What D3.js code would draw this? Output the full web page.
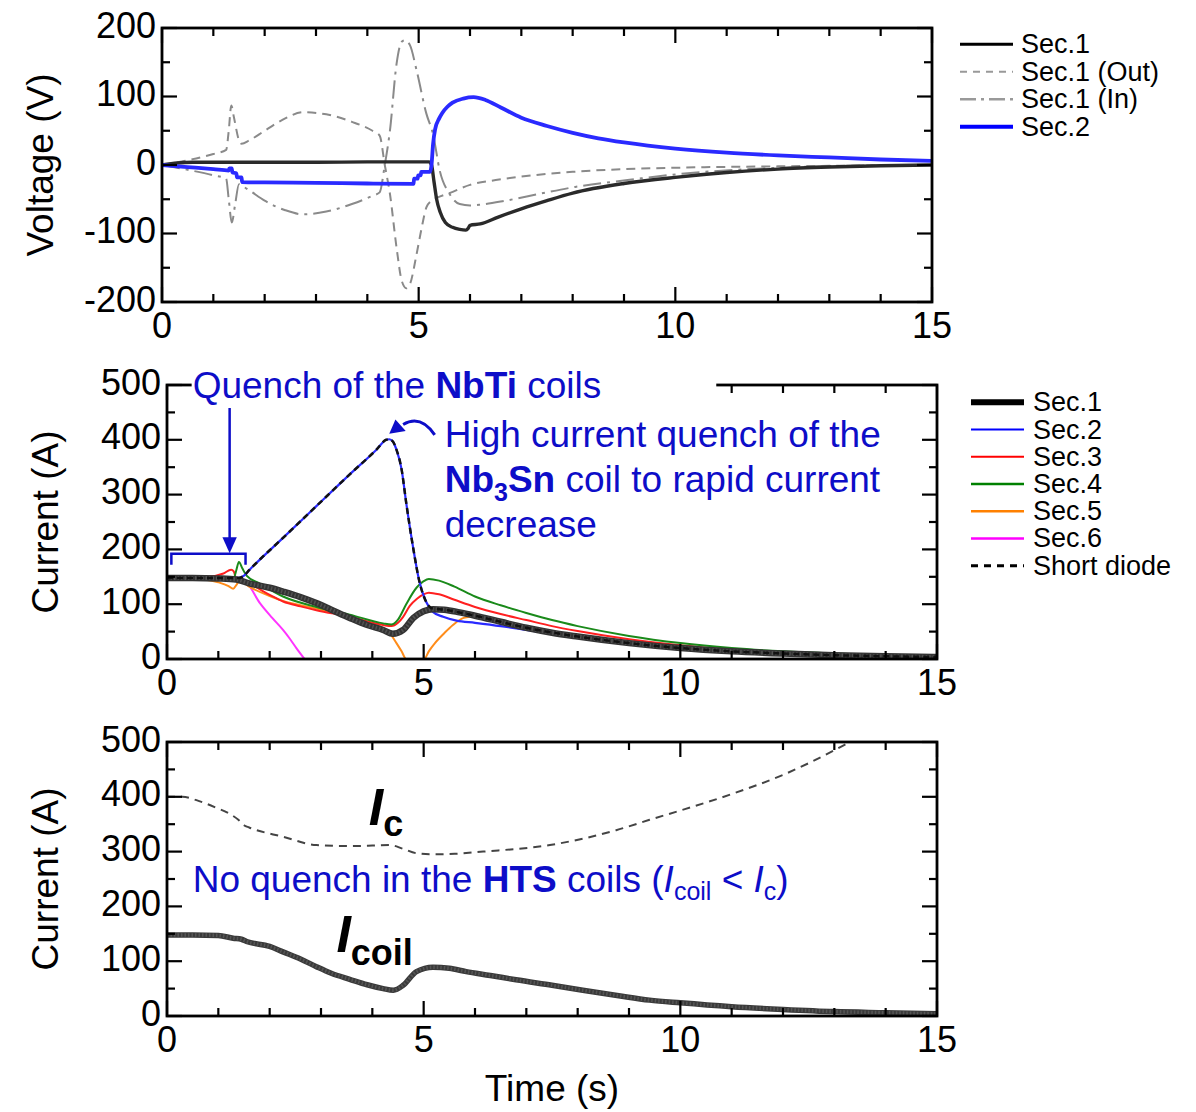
<!DOCTYPE html>
<html><head><meta charset="utf-8">
<script src="https://cdn.jsdelivr.net/npm/d3@7"></script>
<style>body{margin:0;background:#fff}svg{display:block}text{font-family:Arial,"Liberation Sans",sans-serif}</style>
</head><body><svg id="c" width="1196" height="1112"></svg>
<script>
// ---------- DATA ----------
const timeTicksMajor = [0, 5, 10, 15];
const voltTicks = [200, 100, 0, -100, -200];
const currTicks = [500, 400, 300, 200, 100, 0];

// Panel 1: voltage (V)
const sec1V_t = [0, 0.3, 0.6, 1, 2, 3, 4, 5, 5.2, 5.25, 5.3, 5.35, 5.42, 5.52, 5.66, 5.8, 5.92, 5.96, 6.0, 6.2, 6.55, 7, 7.5, 8, 9, 10, 11, 12, 13, 14, 15];
const sec1V_v = [0, 3, 4, 4, 4, 4, 4.5, 4.5, 4.5, 0, -25, -50, -69, -84, -91, -94, -95, -93, -88, -86, -76, -64, -52, -41, -27, -18, -11, -6, -3, -1, 0];
const sec2V_t = [0, 0.5, 1.0, 1.3, 1.31, 1.36, 1.37, 1.45, 1.46, 1.55, 1.56, 2, 3, 4, 4.9, 4.91, 4.98, 4.99, 5.04, 5.05, 5.22, 5.25, 5.28, 5.32, 5.4, 5.46, 5.56, 5.66, 5.87, 6.07, 6.3, 6.6, 7, 7.5, 8, 8.5, 9, 10, 11, 12, 13, 14, 15];
const sec2V_v = [0, -3, -6, -8, -5, -5, -11, -12, -18, -18, -25, -25.5, -26, -27, -27.5, -20, -20, -15, -15, -10, -10, 0, 30, 52, 68, 76, 85, 91, 97, 99, 95, 84, 69, 57, 47, 39, 33, 24, 18, 14, 11, 8, 6];
const outV_t = [0, 0.5, 1.0, 1.25, 1.3, 1.35, 1.4, 1.5, 1.55, 1.7, 2.0, 2.4, 2.75, 3.2, 3.7, 4.1, 4.24, 4.34, 4.44, 4.57, 4.67, 4.76, 4.83, 4.96, 5.05, 5.15, 5.25, 5.35, 5.6, 6, 6.5, 7, 8, 9, 10, 12, 15];
const outV_v = [0, 7, 16, 22, 50, 87, 70, 36, 31, 36, 50, 68, 77, 74, 63, 50, 43, 0, -42, -121, -169, -180, -174, -130, -95, -62, -52, -48, -41, -29, -22, -17, -10, -6, -4, -2, 0];
const inV_t = [0, 0.5, 1.0, 1.25, 1.3, 1.36, 1.42, 1.5, 1.55, 1.7, 2.0, 2.4, 2.75, 3.2, 3.7, 4.1, 4.24, 4.34, 4.44, 4.57, 4.67, 4.73, 4.83, 4.96, 5.15, 5.28, 5.41, 5.6, 5.8, 6.0, 6.2, 6.7, 7.36, 8.05, 9.07, 10.1, 11.45, 12.8, 15];
const inV_v = [0, -7, -15, -20, -50, -84, -60, -28, -30, -37, -52, -66, -72, -68, -57, -45, -40, 0, 50, 148, 180, 182, 175, 138, 75, 45, -8, -42, -57, -59, -58, -52, -42, -32, -22, -13, -6, -2, 0];

// Panel 2: section currents (A)
const sec1I_t = [0, 0.5, 1, 1.35, 1.6, 2, 2.26, 2.6, 2.91, 3.2, 3.56, 3.9, 4.21, 4.4, 4.6, 4.8, 5.0, 5.18, 5.4, 5.7, 6.0, 6.5, 7, 7.5, 8, 9, 10, 11, 12, 13, 14, 15];
const sec1I_v = [148, 148, 147, 145, 138, 130, 123, 113, 102, 90, 75, 62, 53, 46, 53, 75, 87, 91, 90, 85, 79, 68, 57, 48, 41, 29, 20, 14, 10, 7, 5, 3.5];
const sec2I_t = [0, 1.0, 1.4, 1.5, 1.6, 2.26, 2.91, 3.56, 4.08, 4.27, 4.33, 4.4, 4.47, 4.57, 4.66, 4.79, 4.92, 5.05, 5.18, 5.38, 5.64, 6.0, 6.5, 7, 8, 9, 10, 11, 12, 13, 14, 15];
const sec2I_v = [148, 148, 148, 152, 162, 221, 279, 337, 382, 400, 401, 397, 382, 346, 285, 206, 140, 104, 86, 77, 70, 66, 60, 53, 41, 30, 21, 15, 10, 7, 5, 3.5];
const sec3I_t = [0, 0.8, 1.1, 1.25, 1.3, 1.36, 1.45, 1.6, 2.0, 2.26, 2.6, 2.91, 3.56, 4.21, 4.37, 4.5, 4.6, 4.73, 4.87, 5.0, 5.1, 5.3, 5.6, 6, 6.5, 7, 7.5, 8, 9, 10, 11, 12, 13, 14, 15];
const sec3I_v = [148, 150, 156, 163, 160, 143, 141, 137, 117, 105, 96, 89, 77, 62, 60, 66, 77, 97, 110, 118, 121, 118, 108, 95, 82, 71, 60, 51, 36, 25, 17, 11, 8, 6, 4];
const sec4I_t = [0, 1.0, 1.3, 1.35, 1.4, 1.47, 1.55, 1.8, 2.26, 2.91, 3.56, 4.21, 4.37, 4.5, 4.66, 4.86, 5.0, 5.1, 5.3, 5.6, 6, 6.5, 7, 7.5, 8, 9, 10, 11, 12, 13, 14, 15];
const sec4I_v = [148, 148, 148, 162, 177, 165, 152, 138, 114, 95, 81, 65, 63, 72, 100, 130, 142, 146, 143, 132, 114, 98, 84, 71, 60, 42, 29, 20, 14, 10, 7, 5];
const sec5I_t = [0, 0.6, 1.0, 1.2, 1.29, 1.35, 1.42, 1.6, 2.0, 2.26, 2.91, 3.56, 4.0, 4.21, 4.35, 4.47, 4.57, 4.66, 4.67, 5.0, 5.01, 5.1, 5.22, 5.4, 5.57, 5.78, 6, 6.5, 7, 8, 9, 10, 11, 12, 13, 14, 15];
const sec5I_v = [148, 146, 140, 133, 128, 135, 143, 132, 115, 106, 92, 76, 64, 57, 46, 29, 14, 0, 0, 0, 0, 14, 29, 47, 62, 75, 78, 68, 57, 41, 29, 20, 14, 10, 7, 5, 3.5];
const sec6I_t = [0, 1.0, 1.35, 1.5, 1.55, 1.81, 2.05, 2.26, 2.4, 2.52, 2.68];
const sec6I_v = [148, 148, 146, 142, 139, 102, 75, 53, 36, 20, 0];
const diodeI_t = [0, 1.4, 1.5, 1.6, 2.26, 2.91, 3.56, 4.08, 4.27, 4.33, 4.4, 4.47, 4.57, 4.66, 4.79, 4.92, 5.05, 5.18, 5.4, 5.7, 6.0, 7, 8, 9, 10, 11, 12, 13, 14, 15];
const diodeI_v = [148, 148, 152, 162, 221, 279, 337, 382, 400, 401, 397, 382, 346, 285, 206, 140, 104, 92, 90, 85, 79, 57, 41, 29, 20, 14, 10, 7, 5, 3.5];

// Panel 3: HTS coil current and critical current (A)
const icI_t = [0, 0.3, 0.6, 0.96, 1.2, 1.39, 1.5, 1.6, 2.26, 2.91, 3.56, 4.0, 4.34, 4.6, 4.86, 5.18, 5.6, 6.16, 7.46, 8.75, 9.4, 10, 11, 12, 13, 13.3, 13.6];
const icI_v = [400, 400, 393, 380, 370, 358, 348, 344, 327, 312, 310, 311, 312, 305, 297, 295, 296, 300, 312, 339, 358, 375, 405, 440, 485, 500, 515];
const coilI_t = [0, 0.5, 1.0, 1.29, 1.45, 1.55, 2.0, 2.26, 2.6, 2.91, 3.2, 3.56, 3.9, 4.21, 4.41, 4.6, 4.86, 5.18, 5.5, 5.83, 6.3, 6.8, 7.5, 8.1, 8.8, 9.4, 10, 11, 12, 13, 14, 15];
const coilI_v = [148, 148, 147, 142, 140, 136, 127, 117, 104, 90, 78, 67, 57, 50, 47, 56, 81, 89, 87, 81, 74, 66, 56, 47, 37, 29, 24, 17, 12, 8, 6, 4];

// ---------- DRAW ----------
const svg = d3.select('#c');
const BLUE_T = '#0d0dc8';
const zip = (a, b) => d3.zip(a, b);

function panel(o) {
  const x = d3.scaleLinear().domain([0, 15]).range([o.x0, o.x1]);
  const y = d3.scaleLinear().domain(o.dom).range([o.yb, o.yt]);
  const g = svg.append('g');
  const id = 'clip' + o.name;
  svg.append('clipPath').attr('id', id).append('rect')
    .attr('x', o.x0).attr('y', o.yt).attr('width', o.x1 - o.x0).attr('height', o.yb - o.yt);
  const plot = g.append('g').attr('clip-path', `url(#${id})`);
  const line = d3.line().x(d => x(d[0])).y(d => y(d[1])).curve(d3.curveMonotoneX);
  return {x, y, g, plot, line, o};
}

function frame(p, yLabels, yMinorStep) {
  const {x, y, g, o} = p;
  const fg = g.append('g');
  const yMaj = yLabels;
  const yMin = d3.range(o.dom[0], o.dom[1] + 0.001, yMinorStep).filter(v => !yMaj.includes(v));
  const xMin = d3.range(0, 16, 1).filter(v => !timeTicksMajor.includes(v));
  const tk = (x1, y1, x2, y2) => fg.append('line').attr('x1', x1).attr('y1', y1).attr('x2', x2).attr('y2', y2)
    .attr('stroke', '#000').attr('stroke-width', 2.2);
  yMaj.forEach(v => { tk(o.x0, y(v), o.x0 + 15, y(v)); tk(o.x1, y(v), o.x1 - 15, y(v)); });
  yMin.forEach(v => { tk(o.x0, y(v), o.x0 + 8, y(v)); tk(o.x1, y(v), o.x1 - 8, y(v)); });
  timeTicksMajor.forEach(v => { tk(x(v), o.yb, x(v), o.yb - 15); tk(x(v), o.yt, x(v), o.yt + 15); });
  xMin.forEach(v => { tk(x(v), o.yb, x(v), o.yb - 8); tk(x(v), o.yt, x(v), o.yt + 8); });
  fg.append('rect').attr('x', o.x0).attr('y', o.yt).attr('width', o.x1 - o.x0).attr('height', o.yb - o.yt)
    .attr('fill', 'none').attr('stroke', '#000').attr('stroke-width', 2.8);
  yMaj.forEach(v => fg.append('text').attr('x', o.x0 - 6).attr('y', y(v) - 3).attr('dy', '0.35em')
    .attr('text-anchor', 'end').attr('font-size', 36).text(String(v)));
  timeTicksMajor.forEach(v => fg.append('text').attr('x', x(v)).attr('y', o.yb + 36)
    .attr('text-anchor', 'middle').attr('font-size', 36).text(String(v)));
  fg.append('text').attr('transform', `translate(${o.titleX},${(o.yt + o.yb) / 2}) rotate(-90)`)
    .attr('text-anchor', 'middle').attr('font-size', 37).text(o.title);
  return fg;
}

// ---- Panel 1 ----
const p1 = panel({name: 'p1', x0: 162, x1: 932, yt: 28, yb: 302, dom: [-200, 200], title: 'Voltage (V)', titleX: 53});
p1.plot.append('path').datum(zip(outV_t, outV_v)).attr('d', p1.line).attr('fill', 'none')
  .attr('stroke', '#8a8a8a').attr('stroke-width', 2).attr('stroke-dasharray', '9,6');
p1.plot.append('path').datum(zip(inV_t, inV_v)).attr('d', p1.line).attr('fill', 'none')
  .attr('stroke', '#8a8a8a').attr('stroke-width', 2).attr('stroke-dasharray', '18,6,3,6');
p1.plot.append('path').datum(zip(sec1V_t, sec1V_v)).attr('d', p1.line).attr('fill', 'none')
  .attr('stroke', '#2a2a2a').attr('stroke-width', 3.4);
p1.plot.append('path').datum(zip(sec2V_t, sec2V_v)).attr('d', p1.line).attr('fill', 'none')
  .attr('stroke', '#2a2aff').attr('stroke-width', 3.8);
frame(p1, voltTicks, 50);

// legend 1
const leg1 = [
  {name: 'Sec.1', stroke: '#000', w: 3, dash: null},
  {name: 'Sec.1 (Out)', stroke: '#999', w: 2, dash: '7,6'},
  {name: 'Sec.1 (In)', stroke: '#999', w: 2.5, dash: '16,5,3,5'},
  {name: 'Sec.2', stroke: '#0000ff', w: 4, dash: null}
];
leg1.forEach((d, i) => {
  const yy = 44.3 + i * 27.5;
  svg.append('line').attr('x1', 960).attr('x2', 1013).attr('y1', yy).attr('y2', yy)
    .attr('stroke', d.stroke).attr('stroke-width', d.w).attr('stroke-dasharray', d.dash);
  svg.append('text').attr('x', 1021).attr('y', yy + 9).attr('font-size', 27).text(d.name);
});

// ---- Panel 2 ----
const p2 = panel({name: 'p2', x0: 167, x1: 937, yt: 385, yb: 659, dom: [0, 500], title: 'Current (A)', titleX: 58});
const series2 = [
  {t: sec6I_t, v: sec6I_v, c: '#ff33ff', w: 2},
  {t: sec5I_t, v: sec5I_v, c: '#ff8c1a', w: 2},
  {t: sec3I_t, v: sec3I_v, c: '#ff2020', w: 2},
  {t: sec4I_t, v: sec4I_v, c: '#1a8a1a', w: 2},
  {t: sec2I_t, v: sec2I_v, c: '#2a2aff', w: 2.2}
];
series2.forEach(s => p2.plot.append('path').datum(zip(s.t, s.v)).attr('d', p2.line).attr('fill', 'none')
  .attr('stroke', s.c).attr('stroke-width', s.w));
p2.plot.append('path').datum(zip(sec1I_t, sec1I_v)).attr('d', p2.line).attr('fill', 'none')
  .attr('stroke', '#333').attr('stroke-width', 6.5);
p2.plot.append('path').datum(zip(sec1I_t, sec1I_v)).attr('d', p2.line).attr('fill', 'none')
  .attr('stroke', '#777').attr('stroke-width', 4).attr('stroke-dasharray', '1.5,2').attr('opacity', 0.45);
p2.plot.append('path').datum(zip(diodeI_t, diodeI_v)).attr('d', p2.line).attr('fill', 'none')
  .attr('stroke', '#111').attr('stroke-width', 2.5).attr('stroke-dasharray', '6,4');
frame(p2, currTicks, 50);

// white box behind the top annotation
svg.append('rect').attr('x', p2.x(0.48)).attr('y', p2.y(533)).attr('width', p2.x(10.7) - p2.x(0.48))
  .attr('height', p2.y(468) - p2.y(533)).attr('fill', '#fff');
svg.append('text').attr('x', p2.x(0.5)).attr('y', p2.y(477)).attr('font-size', 37).attr('fill', BLUE_T)
  .call(t => {
    t.append('tspan').text('Quench of the ');
    t.append('tspan').attr('font-weight', 'bold').text('NbTi');
    t.append('tspan').text(' coils');
  });
const ann = svg.append('g').attr('stroke', BLUE_T).attr('fill', 'none').attr('stroke-width', 2.5);
ann.append('path').attr('d', d3.line()([[p2.x(0.085), p2.y(172)], [p2.x(0.085), p2.y(192)], [p2.x(1.53), p2.y(192)], [p2.x(1.53), p2.y(172)]]));
ann.append('line').attr('x1', p2.x(1.22)).attr('x2', p2.x(1.22)).attr('y1', p2.y(458)).attr('y2', p2.y(220));
svg.append('path').attr('fill', BLUE_T).attr('d', d3.line()([[p2.x(1.22), p2.y(193)], [p2.x(1.08), p2.y(222)], [p2.x(1.36), p2.y(222)]]) + 'Z');
const cp = d3.path();
cp.moveTo(p2.x(5.215), p2.y(409));
cp.bezierCurveTo(p2.x(5.05), p2.y(432), p2.x(4.85), p2.y(442), p2.x(4.6), p2.y(428));
ann.append('path').attr('d', cp.toString()).attr('stroke-width', 3);
svg.append('path').attr('fill', BLUE_T).attr('d', d3.line()([[p2.x(4.33), p2.y(411)], [p2.x(4.45), p2.y(437)], [p2.x(4.65), p2.y(416)]]) + 'Z');
const hx = p2.x(5.41);
svg.append('text').attr('x', hx).attr('y', p2.y(386)).attr('font-size', 37).attr('fill', BLUE_T).text('High current quench of the');
svg.append('text').attr('x', hx).attr('y', p2.y(304)).attr('font-size', 37).attr('fill', BLUE_T).call(t => {
  t.append('tspan').attr('font-weight', 'bold').text('Nb');
  t.append('tspan').attr('font-weight', 'bold').attr('font-size', 25).attr('dy', 9).text('3');
  t.append('tspan').attr('font-weight', 'bold').attr('dy', -9).text('Sn');
  t.append('tspan').text(' coil to rapid current');
});
svg.append('text').attr('x', hx).attr('y', p2.y(223)).attr('font-size', 37).attr('fill', BLUE_T).text('decrease');

// legend 2
const leg2 = [
  {name: 'Sec.1', stroke: '#000', w: 6, dash: null},
  {name: 'Sec.2', stroke: '#0000ff', w: 2, dash: null},
  {name: 'Sec.3', stroke: '#ff0000', w: 2, dash: null},
  {name: 'Sec.4', stroke: '#008000', w: 2.5, dash: null},
  {name: 'Sec.5', stroke: '#ff8000', w: 2.5, dash: null},
  {name: 'Sec.6', stroke: '#ff00ff', w: 2.5, dash: null},
  {name: 'Short diode', stroke: '#000', w: 3, dash: '7,6'}
];
leg2.forEach((d, i) => {
  const yy = 402.3 + i * 27.23;
  svg.append('line').attr('x1', 971).attr('x2', 1024).attr('y1', yy).attr('y2', yy)
    .attr('stroke', d.stroke).attr('stroke-width', d.w).attr('stroke-dasharray', d.dash);
  svg.append('text').attr('x', 1033).attr('y', yy + 9).attr('font-size', 27).text(d.name);
});

// ---- Panel 3 ----
const p3 = panel({name: 'p3', x0: 167, x1: 937, yt: 742, yb: 1016, dom: [0, 500], title: 'Current (A)', titleX: 58});
p3.plot.append('path').datum(zip(icI_t, icI_v)).attr('d', p3.line).attr('fill', 'none')
  .attr('stroke', '#444').attr('stroke-width', 2).attr('stroke-dasharray', '8,6');
p3.plot.append('path').datum(zip(coilI_t, coilI_v)).attr('d', p3.line).attr('fill', 'none')
  .attr('stroke', '#3a3a3a').attr('stroke-width', 5.5);
p3.plot.append('path').datum(zip(coilI_t, coilI_v)).attr('d', p3.line).attr('fill', 'none')
  .attr('stroke', '#777').attr('stroke-width', 3.5).attr('stroke-dasharray', '1.5,2').attr('opacity', 0.45);
frame(p3, currTicks, 50);
svg.append('text').attr('x', 552).attr('y', 1101).attr('text-anchor', 'middle')
  .attr('font-size', 37).text('Time (s)');

svg.append('text').attr('x', p3.x(3.93)).attr('y', p3.y(349)).attr('font-weight', 'bold').call(t => {
  t.append('tspan').attr('font-style', 'italic').attr('font-size', 52).text('I');
  t.append('tspan').attr('font-size', 36).attr('dy', 11).text('c');
});
svg.append('text').attr('x', p3.x(3.3)).attr('y', p3.y(117)).attr('font-weight', 'bold').call(t => {
  t.append('tspan').attr('font-style', 'italic').attr('font-size', 52).text('I');
  t.append('tspan').attr('font-size', 36).attr('dy', 13).text('coil');
});
svg.append('text').attr('x', p3.x(0.5)).attr('y', p3.y(226)).attr('font-size', 37).attr('fill', BLUE_T).call(t => {
  t.append('tspan').text('No quench in the ');
  t.append('tspan').attr('font-weight', 'bold').text('HTS');
  t.append('tspan').text(' coils (');
  t.append('tspan').attr('font-style', 'italic').text('I');
  t.append('tspan').attr('font-size', 25).attr('dy', 8).text('coil');
  t.append('tspan').attr('dy', -8).text(' < ');
  t.append('tspan').attr('font-style', 'italic').text('I');
  t.append('tspan').attr('font-size', 25).attr('dy', 8).text('c');
  t.append('tspan').attr('dy', -8).text(')');
});
</script></body></html>
